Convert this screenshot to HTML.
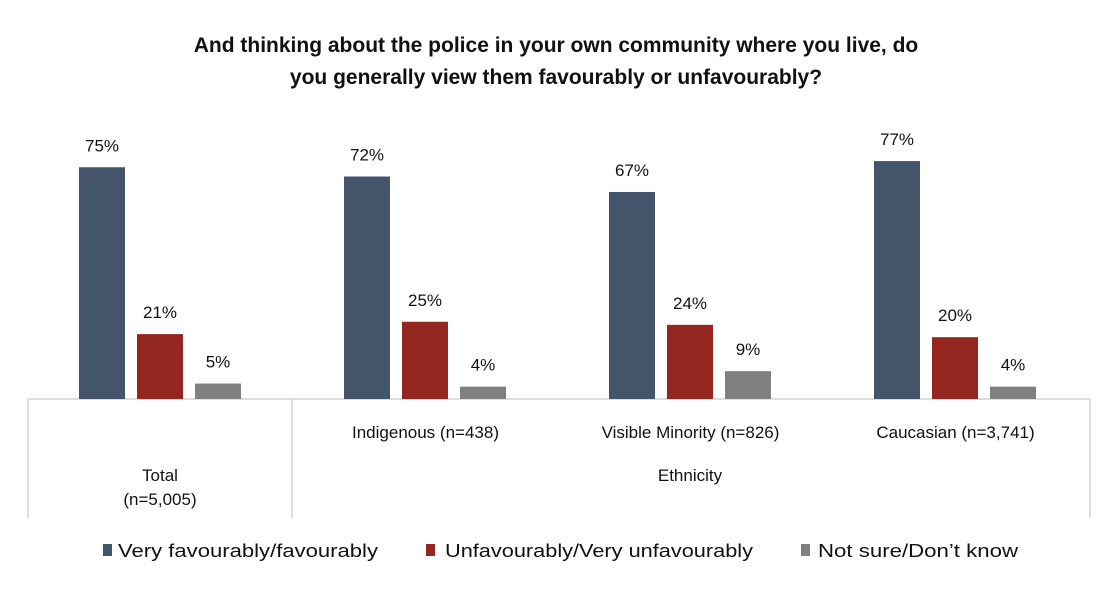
<!DOCTYPE html>
<html><head><meta charset="utf-8">
<style>
body{margin:0;background:#fff;width:1111px;height:590px;overflow:hidden;font-family:"Liberation Sans",sans-serif;}
svg text{font-family:"Liberation Sans",sans-serif;}
</style></head>
<body>
<svg id="chart" width="1111" height="590" xmlns="http://www.w3.org/2000/svg">
<g font-size="21" font-weight="bold" fill="#111" text-anchor="middle">
<text x="556" y="52">And thinking about the police in your own community where you live, do</text>
<text x="556" y="84">you generally view them favourably or unfavourably?</text>
</g>
<g id="axis" stroke="#d4d4d4" stroke-width="1.5" fill="none">
<line x1="28" y1="399" x2="1090" y2="399"/>
<line x1="28" y1="399" x2="28" y2="518"/>
<line x1="292" y1="399" x2="292" y2="518"/>
<line x1="1090" y1="399" x2="1090" y2="518"/>
</g>
<g id="bars"></g>
<g font-size="17" fill="#111" text-anchor="middle" id="catlabels">
<text x="160" y="481">Total</text>
<text x="160" y="505">(n=5,005)</text>
<text x="690" y="481">Ethnicity</text>
</g>
<g font-size="18" fill="#111">
<rect x="103" y="544" width="9" height="12" fill="#44546a"/>
<text x="118" y="557" textLength="260" lengthAdjust="spacingAndGlyphs">Very favourably/favourably</text>
<rect x="426" y="544" width="9" height="12" fill="#93261f"/>
<text x="445" y="557" textLength="308" lengthAdjust="spacingAndGlyphs">Unfavourably/Very unfavourably</text>
<rect x="801" y="544" width="9" height="12" fill="#808080"/>
<text x="818" y="557" textLength="200" lengthAdjust="spacingAndGlyphs">Not sure/Don’t know</text>
</g>
</svg>
<script>
const categories = ["Total","Indigenous (n=438)","Visible Minority (n=826)","Caucasian (n=3,741)"];
const favourable = [75,72,67,77];
const unfavourable = [21,25,24,20];
const notSure = [5,4,9,4];
const seriesNames = ["favourable","unfavourable","not-sure"];
const colors = ["#44546a","#93261f","#808080"];
const series = [favourable, unfavourable, notSure];

const NS = "http://www.w3.org/2000/svg";
const baseY = 399, pxPer = 3.09, catW = 265, x0 = 28, barW = 46, step = 58, firstOff = 51;
const yOf = v => baseY - v * pxPer;
const xOf = (c, s) => x0 + c * catW + firstOff + s * step;
const g = document.getElementById('bars');
series.forEach((vals, s) => {
  vals.forEach((v, c) => {
    const r = document.createElementNS(NS, 'rect');
    
    
    r.setAttribute('x', xOf(c, s));
    r.setAttribute('y', yOf(v));
    r.setAttribute('width', barW);
    r.setAttribute('height', baseY - yOf(v));
    r.setAttribute('fill', colors[s]);
    g.appendChild(r);
    const t = document.createElementNS(NS, 'text');
    
    
    t.setAttribute('x', xOf(c, s) + barW / 2);
    t.setAttribute('y', yOf(v) - 16);
    t.setAttribute('text-anchor', 'middle');
    t.setAttribute('font-size', '17');
    t.setAttribute('fill', '#111');
    t.textContent = v + '%';
    g.appendChild(t);
  });
});
const cl = document.getElementById('catlabels');
categories.forEach((name, c) => {
  if (c === 0) return;
  const t = document.createElementNS(NS, 'text');
  
  
  t.setAttribute('x', x0 + c * catW + catW / 2);
  t.setAttribute('y', 438);
  t.textContent = name;
  cl.appendChild(t);
});
</script>
</body></html>
